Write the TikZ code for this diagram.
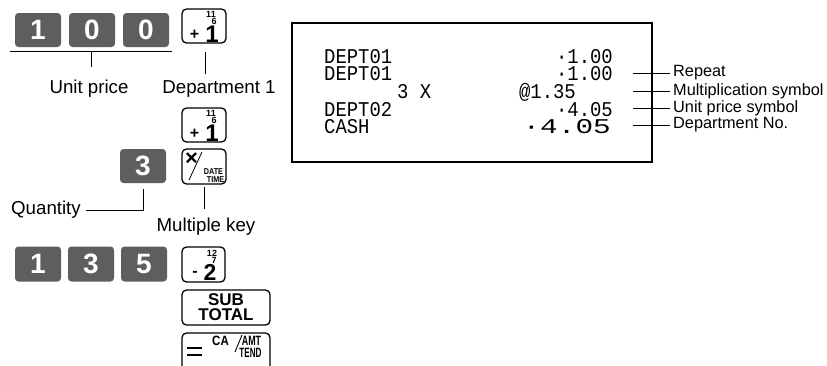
\documentclass[tikz,border=0pt]{standalone}
\usepackage{fontspec}
\setmainfont{Liberation Sans}
\newfontfamily\rcpt{Liberation Mono}
\definecolor{keygray}{RGB}{94,94,94}
\newcommand\rcx[1]{\scalebox{0.9}[1]{#1}}
\newcommand\cnd[2]{\scalebox{#1}[1]{#2}}
\tikzset{
  darkkey/.style={fill=keygray, rounded corners=3.5pt, minimum width=46pt, minimum height=34pt,
    inner sep=0pt, text=white, font=\fontsize{28}{28}\selectfont\bfseries},
  whitekey/.style={draw, line width=1.3pt, rounded corners=4.5pt, minimum width=44pt,
    minimum height=34pt, inner sep=0pt},
  widekey/.style={whitekey, minimum width=88pt, minimum height=35pt},
  tiny/.style={inner sep=0pt, font=\fontsize{9}{9}\selectfont\bfseries},
  sign/.style={inner sep=0pt, font=\fontsize{16}{16}\selectfont\bfseries},
  bignum/.style={inner sep=0pt, font=\fontsize{24}{24}\selectfont\bfseries},
  small/.style={inner sep=0pt, font=\fontsize{8.5}{8.5}\selectfont\bfseries},
  cakey/.style={inner sep=0pt, font=\fontsize{13.5}{13.5}\selectfont\bfseries},
  lbl/.style={inner sep=0pt, font=\fontsize{18.7}{18.7}\selectfont},
  rlbl/.style={inner sep=0pt, anchor=west, font=\fontsize{16.3}{16.3}\selectfont},
  rtxt/.style={inner sep=0pt, font=\fontsize{21}{21}\rcpt},
  thin/.style={line width=0.9pt}
}
\begin{document}
\begin{tikzpicture}[x=1pt,y=-1pt]
\clip (0,0) rectangle (827,365);
\fill[white] (0,0) rectangle (827,365);

% ---- first sequence 1 0 0 +1
\node[darkkey] (k1) at (38,30) {1};
\node[darkkey] (k0a) at (92,30) {0};
\node[darkkey] (k0b) at (146,30) {0};
\node[whitekey] (d1) at (204,26) {};
\node[tiny] (d1a) at (211,14.6) {11};
\node[tiny] (d1b) at (214,21.8) {6};
\node[sign] (d1c) at (194.5,35) {+};
\node[bignum] (d1d) at (212,34) {1};

\coordinate (ulL) at (10,51);
\coordinate (ulR) at (172,51);
\coordinate (ulM) at (91,51);
\coordinate (ulE) at (91,67);
\draw[thin] (ulL) -- (ulR);
\draw[thin] (ulM) -- (ulE);
\node[lbl, anchor=base] (up) at (89,93) {Unit price};
\coordinate (dtA) at (205,52);
\coordinate (dtB) at (205,74);
\draw[thin] (dtA) -- (dtB);
\node[lbl, anchor=base] (dep) at (219,93) {Department 1};

% ---- second +1
\node[whitekey] (d2) at (204,125) {};
\node[tiny] (d2a) at (211,113.6) {11};
\node[tiny] (d2b) at (214,120.8) {6};
\node[sign] (d2c) at (194.5,134) {+};
\node[bignum] (d2d) at (212,133) {1};

% ---- 3 x
\node[darkkey] (k3) at (143,166) {3};
\node[whitekey, minimum height=35pt] (mx) at (204,166.5) {};
\node[inner sep=0pt, font=\fontsize{22}{22}\selectfont\bfseries] (mxa) at (191.5,159) {×};
\coordinate (slA) at (189,180);
\coordinate (slB) at (202,152);
\draw[line width=0.8pt] (slA) -- (slB);
\node[small] (mxb) at (213.5,171.5) {\cnd{0.85}{DATE}};
\node[small] (mxc) at (215.5,179.5) {\cnd{0.85}{TIME}};

\coordinate (qA) at (143,189);
\coordinate (qB) at (143,210);
\coordinate (qC) at (86,210);
\draw[thin] (qA) -- (qB) -- (qC);
\node[lbl, anchor=base east] (qty) at (81,214) {Quantity};
\coordinate (mA) at (204,187);
\coordinate (mB) at (204,209);
\draw[thin] (mA) -- (mB);
\node[lbl, anchor=base] (mk) at (206,231) {Multiple key};

% ---- 1 3 5 -2
\node[darkkey, minimum height=35pt] (b1) at (38,264) {1};
\node[darkkey, minimum height=35pt] (b3) at (91,264) {3};
\node[darkkey, minimum height=35pt] (b5) at (144,264) {5};
\node[whitekey, minimum width=43pt, minimum height=35pt] (d3) at (203.5,264.5) {};
\node[tiny] (d3a) at (212,253) {12};
\node[tiny] (d3b) at (214,260.2) {7};
\node[sign] (d3c) at (195,273.5) {-};
\node[inner sep=0pt, font=\fontsize{23}{23}\selectfont\bfseries] (d3d) at (210,272.8) {2};

% ---- SUB TOTAL
\node[widekey, align=center, font=\fontsize{17}{15}\selectfont\bfseries] (st) at (226,307.5) {SUB\\TOTAL};

% ---- CA/AMT TEND
\node[widekey, minimum height=40pt] (ca) at (226,353) {};
\coordinate (eqA) at (187,348);
\coordinate (eqB) at (202,348);
\coordinate (eqC) at (187,355);
\coordinate (eqD) at (202,355);
\draw[line width=2pt] (eqA) -- (eqB) (eqC) -- (eqD);
\node[cakey] (caa) at (220.5,341) {\cnd{0.85}{CA}};
\coordinate (s2A) at (235,352);
\coordinate (s2B) at (242,335);
\draw[line width=0.9pt] (s2A) -- (s2B);
\node[cakey] (cab) at (251.5,341) {\cnd{0.66}{AMT}};
\node[cakey] (cac) at (250.5,352.5) {\cnd{0.6}{TEND}};

% ---- receipt
\node[draw, line width=1.1pt, minimum width=360pt, minimum height=139pt, inner sep=0pt] (rc) at (472,92.5) {};
\node[rtxt, anchor=base west] (r1a) at (324,63) {\rcx{DEPT01}};
\node[rtxt, anchor=base east] (r1b) at (613,63) {\rcx{·1.00}};
\node[rtxt, anchor=base west] (r2a) at (324,80.5) {\rcx{DEPT01}};
\node[rtxt, anchor=base east] (r2b) at (613,80.5) {\rcx{·1.00}};
\node[rtxt, anchor=base west] (r3a) at (397,98) {\rcx{3 X}};
\node[rtxt, anchor=base east] (r3b) at (576,98) {\rcx{@1.35}};
\node[rtxt, anchor=base west] (r4a) at (324,116) {\rcx{DEPT02}};
\node[rtxt, anchor=base east] (r4b) at (613,116) {\rcx{·4.05}};
\node[rtxt, anchor=base west] (r5a) at (324,133) {\rcx{CASH}};
\node[rtxt, anchor=base east] (r5b) at (611,133) {\scalebox{1.4}[1]{·4.05}};

% ---- receipt labels
\coordinate (l1a) at (633,73);  \coordinate (l1b) at (670,73);
\coordinate (l2a) at (633,91);  \coordinate (l2b) at (670,91);
\coordinate (l3a) at (633,108.5); \coordinate (l3b) at (670,108.5);
\coordinate (l4a) at (633,125);   \coordinate (l4b) at (670,125);
\draw[thin] (l1a) -- (l1b);
\draw[thin] (l2a) -- (l2b);
\draw[thin] (l3a) -- (l3b);
\draw[thin] (l4a) -- (l4b);
\node[rlbl] (t1) at (673,73) {Repeat};
\node[rlbl] (t2) at (673,91) {Multiplication symbol};
\node[rlbl] (t3) at (673,108.5) {Unit price symbol};
\node[rlbl] (t4) at (673,125) {Department No.};
\end{tikzpicture}
\end{document}
